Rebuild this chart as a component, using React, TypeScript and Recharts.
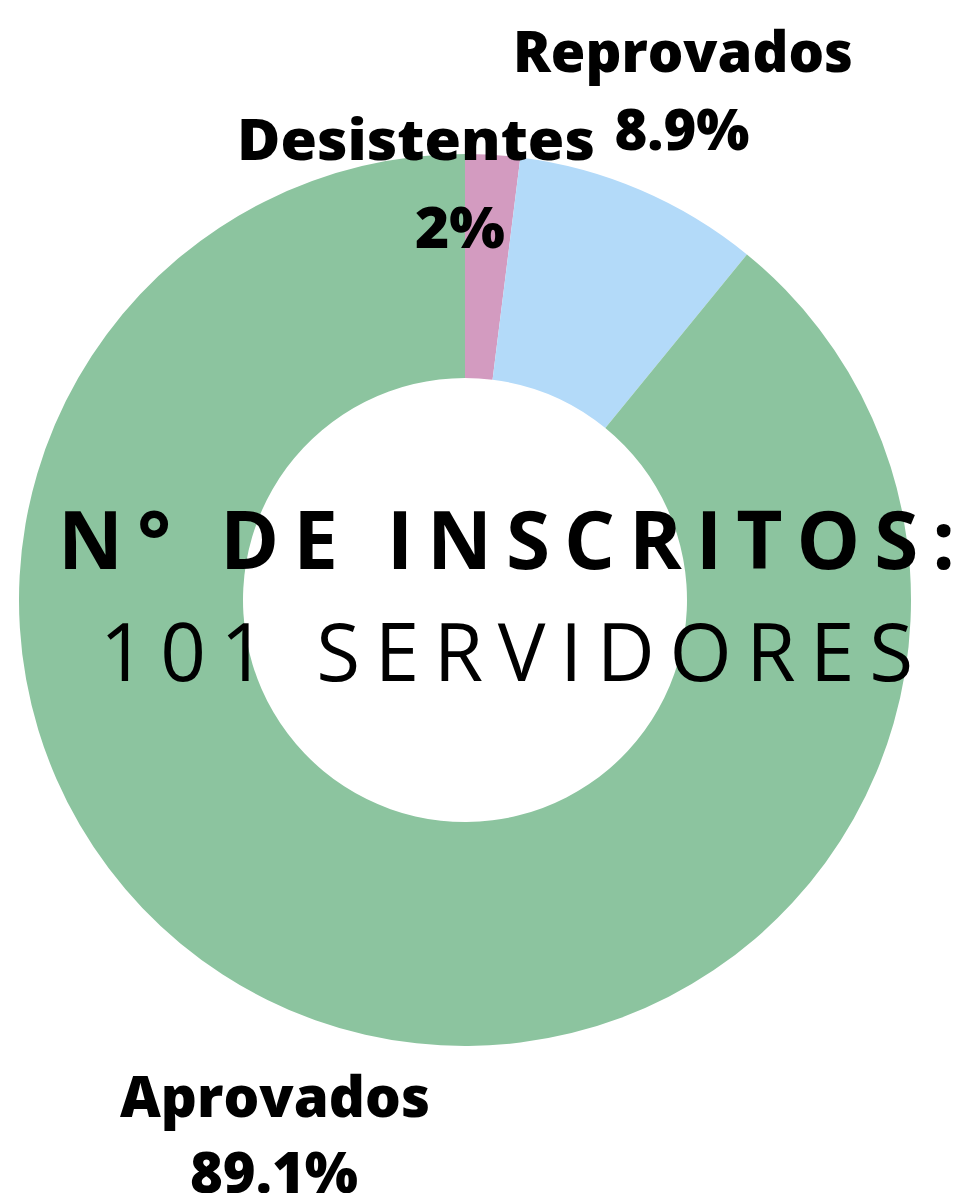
import React from "react";
import { PieChart, Pie, Cell } from "recharts";

const categories = ["Desistentes", "Reprovados", "Aprovados"];
const counts = [2, 9, 90];
const colors = ["#D39BC0", "#B3DAF9", "#8CC49F"];
const centerTitle = "N° DE INSCRITOS:";
const centerSubtitle = "101 SERVIDORES";

const data = categories.map((name, i) => ({ name, value: counts[i] }));

// label layout (relative to the pie centre)
const labelLayout = [
  { nameDx: -49, valueDx: -5, nameDy: -440, valueDy: -352, nameW: 358, valueW: 90 },
  { nameDx: 218, valueDx: 217, nameDy: -528, valueDy: -450, nameW: 340, valueW: 135 },
  { nameDx: -190, valueDx: -191, nameDy: 517, valueDy: 593, nameW: 310, valueW: 168 },
];

const FONT = "'Open Sans', 'DejaVu Sans', sans-serif";

const renderLabel = (props: any) => {
  const { cx, cy, index, percent, name } = props;
  const l = labelLayout[index];
  const pct = parseFloat((percent * 100).toFixed(1));
  const nodes = [
    <text
      key="n"
      x={cx + l.nameDx}
      y={cy + l.nameDy}
      textAnchor="middle"
      fontFamily={FONT}
      fontWeight={800}
      fontSize={57}
      fill="#000"
      textLength={l.nameW}
      lengthAdjust="spacingAndGlyphs"
    >
      {name}
    </text>,
    <text
      key="v"
      x={cx + l.valueDx}
      y={cy + l.valueDy}
      textAnchor="middle"
      fontFamily={FONT}
      fontWeight={800}
      fontSize={57}
      fill="#000"
      textLength={l.valueW}
      lengthAdjust="spacingAndGlyphs"
    >
      {`${pct}%`}
    </text>,
  ];
  if (index === 0) {
    nodes.push(
      <text
        key="c1"
        x={cx - 407}
        y={cy - 31}
        fontFamily={FONT}
        fontWeight={700}
        fontSize={80}
        fill="#000"
        textLength={897}
        lengthAdjust="spacing"
      >
        {centerTitle}
      </text>,
      <text
        key="c2"
        x={cx - 365}
        y={cy + 81}
        fontFamily={FONT}
        fontWeight={400}
        fontSize={80}
        fill="#000"
        textLength={813}
        lengthAdjust="spacing"
      >
        {centerSubtitle}
      </text>
    );
  }
  return <g>{nodes}</g>;
};

export default function App() {
  return (
    <div style={{ position: "absolute", left: 0, top: 0, width: 965, height: 1193, background: "#fff" }}>
      <PieChart width={965} height={1193} margin={{ top: 0, right: 0, bottom: 0, left: 0 }}>
        <Pie
          data={data}
          dataKey="value"
          nameKey="name"
          cx={465}
          cy={600}
          innerRadius={222}
          outerRadius={446}
          startAngle={90}
          endAngle={-270}
          stroke="none"
          label={renderLabel}
          labelLine={false}
          isAnimationActive={false}
        >
          {data.map((d, i) => (
            <Cell key={d.name} fill={colors[i]} />
          ))}
        </Pie>
      </PieChart>
    </div>
  );
}
